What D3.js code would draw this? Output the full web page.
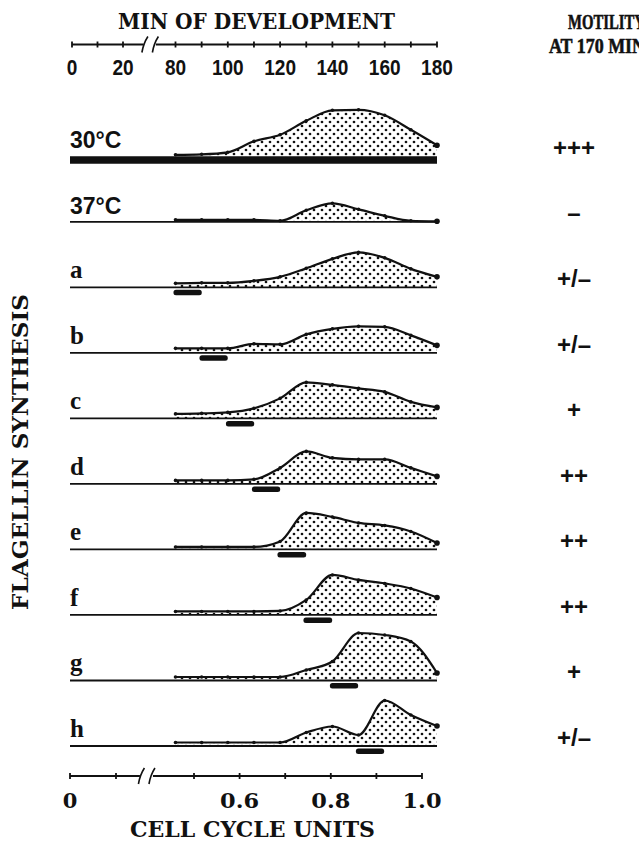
<!DOCTYPE html>
<html>
<head>
<meta charset="utf-8">
<script src="https://cdn.jsdelivr.net/npm/d3@7"></script>
<style>
  html, body { margin: 0; padding: 0; background: #fff; }
  svg { display: block; }
</style>
</head>
<body>
<svg id="chart" width="639" height="841"></svg>
<script>
// ---- DATA ----
const rows = ["30°C", "37°C", "a", "b", "c", "d", "e", "f", "g", "h"];
const minutes = [80, 90, 100, 110, 120, 130, 140, 150, 160, 170, 180];

// relative flagellin synthesis at each sampling time
const synth30C = [3, 4, 8, 30, 43, 71, 92, 93, 82, 53, 22];
const synth37C = [4, 4, 4, 4, 2, 23, 37, 25, 12, 2, 1];
const synthA   = [8, 9, 9, 13, 21, 38, 57, 70, 59, 37, 21];
const synthB   = [9, 9, 9, 18, 17, 37, 48, 53, 52, 35, 15];
const synthC   = [9, 10, 12, 20, 40, 72, 67, 60, 53, 33, 22];
const synthD   = [7, 7, 7, 9, 32, 65, 52, 49, 49, 32, 15];
const synthE   = [5, 5, 5, 5, 16, 73, 65, 53, 48, 36, 13];
const synthF   = [7, 7, 7, 7, 8, 30, 80, 70, 63, 53, 35];
const synthG   = [7, 7, 7, 7, 7, 21, 38, 95, 91, 78, 15];
const synthH   = [7, 7, 7, 7, 7, 27, 39, 22, 91, 62, 40];
const series = [synth30C, synth37C, synthA, synthB, synthC, synthD, synthE, synthF, synthG, synthH];

// temperature shift intervals, in cell cycle units (null = no shift)
const shiftStart = [null, null, 0.455, 0.512, 0.570, 0.627, 0.683, 0.740, 0.798, 0.855];
const shiftEnd   = [null, null, 0.517, 0.574, 0.632, 0.689, 0.746, 0.803, 0.860, 0.917];

const motility = ["+++", "\u2013", "+/\u2013", "+/\u2013", "+", "++", "++", "++", "+", "+/\u2013"];

// axis ticks
const minTicksEarly = [0, 10, 20];
const minTicksMain = [80, 90, 100, 110, 120, 130, 140, 150, 160, 170, 180];
const minLabels = [0, 20, 80, 100, 120, 140, 160, 180];
const cellTicksEarly = [0, 0.1];
const cellTicksMain = [0.5, 0.6, 0.7, 0.8, 0.9, 1.0];
const cellLabels = [0, 0.6, 0.8, 1.0];

// ---- SCALES ----
const xMin = d3.scaleLinear().domain([80, 180]).range([175.5, 437]);
const xMinEarly = d3.scaleLinear().domain([0, 20]).range([72, 123]);
const xCell = d3.scaleLinear().domain([0.5, 1.0]).range([194, 422]);
const xCellEarly = d3.scaleLinear().domain([0, 0.1]).range([70, 116]);
const yRow = d3.scalePoint().domain(rows).range([156.3, 746]);
const yVal = d3.scaleLinear().domain([0, 100]).range([0, 50]);

const SLAB = "'DejaVu Serif', 'Liberation Serif', serif";
const SANS = "'Liberation Sans', Arial, sans-serif";
const SERIF = "'Liberation Serif', 'Times New Roman', serif";
const INK = "#111";

const svg = d3.select("#chart");
svg.append("rect").attr("width", 639).attr("height", 841).attr("fill", "#fff");

// stipple pattern for the area fills
const defs = svg.append("defs");
const pat = defs.append("pattern")
  .attr("id", "stipple")
  .attr("patternUnits", "userSpaceOnUse")
  .attr("width", 8).attr("height", 8);
pat.append("rect").attr("width", 8).attr("height", 8).attr("fill", "#fff");
pat.selectAll("circle").data([[2, 2], [6, 6]]).join("circle")
  .attr("cx", d => d[0]).attr("cy", d => d[1]).attr("r", 1.35).attr("fill", INK);

// squeeze text to a measured width
function fit(sel, w) {
  return sel.attr("textLength", w).attr("lengthAdjust", "spacingAndGlyphs");
}

function breakMark(g, x, y) {
  g.append("path")
    .attr("d", `M${x - 3},${y + 8} Q${x - 1.5},${y - 1} ${x + 3},${y - 8}`)
    .attr("fill", "none").attr("stroke", INK).attr("stroke-width", 1.6);
}

// ---- TOP AXIS (min of development) ----
const topY = 44.5;
const gTop = svg.append("g");
gTop.append("line")
  .attr("x1", xMinEarly(0)).attr("x2", xMinEarly(28))
  .attr("y1", topY).attr("y2", topY)
  .attr("stroke", INK).attr("stroke-width", 1.8);
gTop.append("line")
  .attr("x1", xMin(72.5)).attr("x2", xMin(180))
  .attr("y1", topY).attr("y2", topY)
  .attr("stroke", INK).attr("stroke-width", 1.8);
breakMark(gTop, xMinEarly(28) + 1.5, topY);
breakMark(gTop, xMin(72.5) - 0.5, topY);
const topTickX = minTicksEarly.map(v => xMinEarly(v)).concat(minTicksMain.map(v => xMin(v)));
gTop.selectAll("line.tick").data(topTickX).join("line")
  .attr("class", "tick")
  .attr("x1", d => d).attr("x2", d => d)
  .attr("y1", topY - 3).attr("y2", topY + 3)
  .attr("stroke", INK).attr("stroke-width", 1.8);
gTop.selectAll("text.lab").data(minLabels).join("text")
  .attr("class", "lab")
  .attr("x", d => d <= 20 ? xMinEarly(d) : xMin(d))
  .attr("y", 74.5)
  .attr("text-anchor", "middle")
  .attr("font-family", SANS).attr("font-weight", "bold").attr("font-size", 22)
  .attr("fill", INK)
  .text(d => d)
  .each(function(d) { fit(d3.select(this), String(d).length * 10.6); });

fit(svg.append("text")
  .attr("x", 118).attr("y", 28.5)
  .attr("font-family", SLAB).attr("font-weight", "bold").attr("font-size", 22)
  .attr("fill", INK)
  .text("MIN OF DEVELOPMENT"), 277);

// motility header (runs off the right edge like the original)
fit(svg.append("text")
  .attr("x", 568).attr("y", 29)
  .attr("font-family", SERIF).attr("font-weight", "bold").attr("font-size", 22)
  .attr("fill", INK).attr("stroke", INK).attr("stroke-width", 0.6)
  .text("MOTILITY"), 77);
fit(svg.append("text")
  .attr("x", 549).attr("y", 53)
  .attr("font-family", SERIF).attr("font-weight", "bold").attr("font-size", 22)
  .attr("fill", INK).attr("stroke", INK).attr("stroke-width", 0.6)
  .text("AT 170 MIN"), 96);

// ---- ROWS ----
const area = d3.area()
  .x(d => xMin(d.m))
  .curve(d3.curveMonotoneX);
const line = d3.line()
  .x(d => xMin(d.m))
  .curve(d3.curveMonotoneX);

rows.forEach((r, i) => {
  const y0 = yRow(r);
  const pts = minutes.map((m, j) => ({ m, v: series[i][j] }));
  const g = svg.append("g");

  g.append("path")
    .datum(pts)
    .attr("d", area.y0(y0).y1(d => y0 - yVal(d.v)))
    .attr("fill", "url(#stipple)");

  // baseline
  if (i === 0) {
    g.append("line")
      .attr("x1", xCellEarly(0)).attr("x2", xMin(180))
      .attr("y1", y0 + 3.8).attr("y2", y0 + 3.8)
      .attr("stroke", INK).attr("stroke-width", 7.5);
  } else {
    g.append("line")
      .attr("x1", xCellEarly(0)).attr("x2", xMin(180))
      .attr("y1", y0).attr("y2", y0)
      .attr("stroke", INK).attr("stroke-width", 1.8);
  }

  g.append("path")
    .datum(pts)
    .attr("d", line.y(d => y0 - yVal(d.v)))
    .attr("fill", "none").attr("stroke", INK).attr("stroke-width", 2.2);

  g.selectAll("circle").data(pts).join("circle")
    .attr("cx", d => xMin(d.m)).attr("cy", d => y0 - yVal(d.v))
    .attr("r", (d, j) => j === pts.length - 1 ? 2.8 : 1.8)
    .attr("fill", INK);

  if (shiftStart[i] !== null) {
    g.append("rect")
      .attr("x", xCell(shiftStart[i]))
      .attr("width", xCell(shiftEnd[i]) - xCell(shiftStart[i]))
      .attr("y", y0 + 2.5).attr("height", 5.5)
      .attr("rx", 2.5)
      .attr("fill", INK);
  }

  // row label
  const isTemp = r.includes("°");
  g.append("text")
    .attr("x", 70).attr("y", y0 - (isTemp ? 8 : 9))
    .attr("font-family", isTemp ? SANS : SERIF)
    .attr("font-weight", "bold")
    .attr("font-size", isTemp ? 23 : 25)
    .attr("fill", INK)
    .text(r);

  // motility score
  g.append("text")
    .attr("x", 574).attr("y", y0 - 8.5)
    .attr("dy", "0.34em")
    .attr("text-anchor", "middle")
    .attr("font-family", SANS).attr("font-weight", "bold").attr("font-size", 24)
    .attr("fill", INK)
    .text(motility[i]);
});

// ---- BOTTOM AXIS (cell cycle units) ----
const botY = 776;
const gBot = svg.append("g");
gBot.append("line")
  .attr("x1", xCellEarly(0)).attr("x2", xCellEarly(0.152))
  .attr("y1", botY).attr("y2", botY)
  .attr("stroke", INK).attr("stroke-width", 1.8);
gBot.append("line")
  .attr("x1", xCell(0.41)).attr("x2", xCell(1.0))
  .attr("y1", botY).attr("y2", botY)
  .attr("stroke", INK).attr("stroke-width", 1.8);
breakMark(gBot, xCellEarly(0.152) + 1.5, botY);
breakMark(gBot, xCell(0.41) - 1, botY);
const botTickX = cellTicksEarly.map(v => xCellEarly(v)).concat(cellTicksMain.map(v => xCell(v)));
gBot.selectAll("line.tick").data(botTickX).join("line")
  .attr("class", "tick")
  .attr("x1", d => d).attr("x2", d => d)
  .attr("y1", botY - 3).attr("y2", botY + 3)
  .attr("stroke", INK).attr("stroke-width", 1.8);
gBot.selectAll("text.lab").data(cellLabels).join("text")
  .attr("class", "lab")
  .attr("x", d => d === 0 ? xCellEarly(d) : xCell(d))
  .attr("y", 808.3)
  .attr("text-anchor", "middle")
  .attr("font-family", SLAB).attr("font-weight", "bold").attr("font-size", 21)
  .attr("fill", INK)
  .text(d => d === 0 ? "0" : d.toFixed(1))
  .each(function(d) { if (d !== 0) fit(d3.select(this), 39); });

fit(svg.append("text")
  .attr("x", 130).attr("y", 836.5)
  .attr("font-family", SLAB).attr("font-weight", "bold").attr("font-size", 22)
  .attr("fill", INK)
  .text("CELL CYCLE UNITS"), 245);

// ---- Y TITLE ----
fit(svg.append("text")
  .attr("transform", "translate(28,452) rotate(-90)")
  .attr("text-anchor", "middle")
  .attr("font-family", SLAB).attr("font-weight", "bold").attr("font-size", 22)
  .attr("fill", INK)
  .text("FLAGELLIN SYNTHESIS"), 316);
</script>
</body>
</html>
